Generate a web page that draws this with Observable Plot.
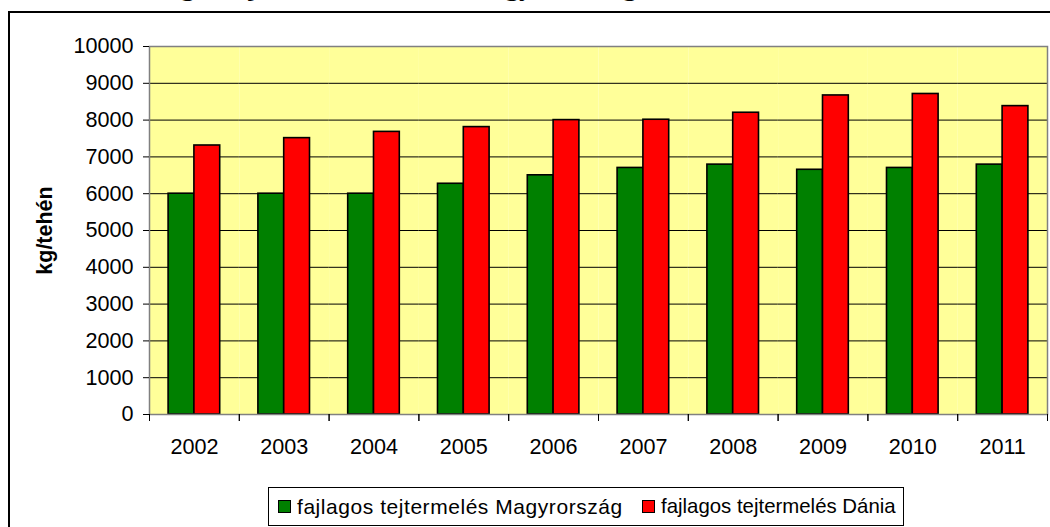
<!DOCTYPE html>
<html>
<head>
<meta charset="utf-8">
<script src="https://cdn.jsdelivr.net/npm/d3@7"></script>
<script src="https://cdn.jsdelivr.net/npm/@observablehq/plot@0.6"></script>
<style>
  html, body { margin: 0; padding: 0; background: #fff; overflow: hidden; width: 1050px; height: 527px; }
  #page { position: relative; width: 1050px; height: 527px; overflow: hidden; font-family: Arial, "Liberation Sans", sans-serif; }
  #title { position: absolute; left: 0; width: 1050px; top: -28px; text-align: center; font: bold 28px "Liberation Serif", "Times New Roman", serif; line-height: 1; white-space: nowrap; color: #000; }
  #outer { position: absolute; left: 8px; top: 11px; width: 1100px; height: 600px; border-left: 2px solid #000; border-top: 2px solid #000; }
  #chart { position: absolute; left: 0; top: 0; }
  #legend { position: absolute; left: 268px; top: 487px; width: 636px; height: 39px; border: 1px solid #000; background: #fff; box-sizing: border-box; }
  .item { position: absolute; top: 0; height: 37px; display: flex; align-items: center; color: #000; white-space: nowrap; }
  .sw { width: 11px; height: 11px; border: 1px solid #000; margin-right: 6px; }
</style>
</head>
<body>
<div id="page">
  <div id="title"></div>
  <div id="outer"></div>
  <div id="chart"></div>
  <div id="legend"></div>
</div>
<script>
// ---- data ----
const title = "Az átlagos tejhozam alakulása Magyarországon és Dániában, 2002-2011";
const years = [2002, 2003, 2004, 2005, 2006, 2007, 2008, 2009, 2010, 2011];
const huValues = [6000, 6000, 6000, 6270, 6500, 6700, 6790, 6650, 6700, 6790];
const dkValues = [7310, 7510, 7680, 7810, 8000, 8010, 8200, 8670, 8710, 8380];
const seriesNames = ["fajlagos tejtermelés Magyrország", "fajlagos tejtermelés Dánia"];
const seriesColors = ["#008000", "#FF0000"];
const yTicks = [0, 1000, 2000, 3000, 4000, 5000, 6000, 7000, 8000, 9000, 10000];
const yLabel = "kg/tehén";

// ---- layout ----
const W = 1050, H = 470;
const mTop = 46, mBottom = 56, mLeft = 149, mRight = 3;
const plotH = H - mTop - mBottom;

const rows = [];
years.forEach((yr, i) => {
  rows.push({year: yr, series: seriesNames[0], value: huValues[i]});
  rows.push({year: yr, series: seriesNames[1], value: dkValues[i]});
});

document.getElementById("title").textContent = title;

const chart = Plot.plot({
  width: W,
  height: H,
  marginTop: mTop,
  marginBottom: mBottom,
  marginLeft: mLeft,
  marginRight: mRight,
  style: {fontFamily: "Arial, 'Liberation Sans', sans-serif", color: "#000", background: "transparent"},
  fx: {domain: years, padding: 0, round: false},
  x: {domain: seriesNames, paddingInner: 0, paddingOuter: 0.74, round: false, axis: null},
  y: {domain: [0, 10000]},
  color: {domain: seriesNames, range: seriesColors},
  marks: [
    Plot.frame({fill: "#FFFF99", stroke: null}),
    Plot.ruleY(yTicks.filter(v => v > 0 && v < 10000), {stroke: "#000", strokeWidth: 1}),
    Plot.barY(rows, {fx: "year", x: "series", y: "value", fill: "series", stroke: "#000", strokeWidth: 1.6}),
    Plot.ruleY([0], {stroke: "#000", strokeWidth: 1.2}),
    Plot.frame({stroke: "#808080", strokeWidth: 1.5, facet: "super"}),
    Plot.frame({anchor: "left", insetTop: plotH, insetBottom: -6, stroke: "#000"}),
    Plot.frame({anchor: "right", insetTop: plotH, insetBottom: -6, stroke: "#000"}),
    Plot.axisY({ticks: yTicks, tickSize: 6, tickPadding: 10, fontSize: 21.6, tickFormat: d => String(d),
      label: yLabel, labelAnchor: "center", labelOffset: 113, labelArrow: false}),
    Plot.axisFx({anchor: "bottom", tickSize: 0, tickPadding: 24, fontSize: 21.6, label: null, tickFormat: d => String(d)})
  ]
});
document.getElementById("chart").appendChild(chart);
// make the y-axis label bold
d3.select(chart).selectAll("[aria-label='y-axis label'] text, [aria-label='y-axis label']").attr("font-weight", "bold").attr("font-size", 21.5);

// ---- legend ----
const legend = d3.select("#legend");
const itemLefts = [9, 373];
const itemSpacing = [0.55, 0];
const itemFont = [21, 20.4];
seriesNames.forEach((name, i) => {
  const it = legend.append("div").attr("class", "item")
    .style("left", itemLefts[i] + "px").style("font-size", itemFont[i] + "px");
  it.append("div").attr("class", "sw").style("background", seriesColors[i]);
  it.append("span").style("letter-spacing", itemSpacing[i] + "px").text(name);
});
</script>
</body>
</html>
